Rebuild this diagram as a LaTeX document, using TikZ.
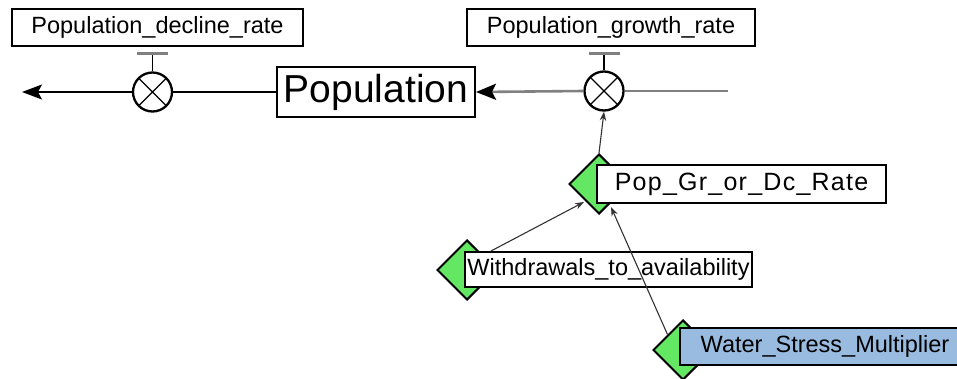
\documentclass[tikz,border=0pt]{standalone}
\usepackage{fontspec}
\setmainfont{Liberation Sans}
\newfontfamily\spacedfont[LetterSpace=5]{Liberation Sans}
\usetikzlibrary{arrows.meta,shapes.geometric,calc}

\definecolor{auxgreen}{RGB}{100,232,100}
\definecolor{constblue}{RGB}{153,187,224}
\definecolor{linkgray}{RGB}{50,50,50}

\begin{document}
\begin{tikzpicture}[x=1pt,y=-1pt,
  lbl/.style={draw=black,line width=2pt,fill=white,inner sep=0pt,
    font=\fontsize{23.5}{27}\selectfont},
  gate/.style={draw=black,line width=2.3pt,circle,minimum size=39pt,inner sep=0pt,fill=white,
    path picture={\draw[line width=1.2pt]
      (path picture bounding box.north west)--(path picture bounding box.south east)
      (path picture bounding box.north east)--(path picture bounding box.south west);}},
  auxdia/.style={diamond,draw=black,line width=2pt,fill=auxgreen,inner sep=0pt,
    minimum width=60pt,minimum height=60pt},
  stem/.style={line width=1.6pt,shorten >=6.5pt},
  bar/.style={draw=gray,line width=2.2pt},
  flow/.style={-{Stealth[length=20pt,width=15pt,inset=4pt]}},
  link/.style={draw=linkgray,line width=1.1pt,-{Stealth[length=9pt,width=6.5pt]}}
]
\useasboundingbox (0,0) rectangle (957,378);

% stock and its rates
\node[lbl,minimum width=198pt,minimum height=50pt,font=\fontsize{39}{44}\selectfont]
  (pop) at (376,92) {Population};
\node[lbl,minimum width=291pt,minimum height=37pt] (decbox) at (157.5,27.5) {Population\_decline\_rate};
\node[lbl,minimum width=288pt,minimum height=37pt] (grobox) at (611,27.5) {Population\_growth\_rate};

% outflow
\node[gate] (decv) at (152.5,92) {};
\coordinate (sink) at (22,92);
\draw[line width=1.6pt] (pop.west) -- (decv.east);
\draw[line width=1.6pt,flow] (decv.west) -- (sink);

% inflow
\node[gate] (grov) at (604,91) {};
\coordinate (source) at (728,91);
\draw[line width=2.6pt,draw=gray] (source) -- (grov.east);
\draw[line width=2.6pt,draw=gray,-{Stealth[length=20pt,width=16pt,inset=4pt,color=black]}] (grov.west) -- (pop.east);

% rate controls
\draw[stem] (decv.north) -- (decv.north |- decbox.south);
\draw[bar] ($(decv.north |- decbox.south)+(-15.5,6.5)$) -- ++(31,0);
\draw[stem] (grov.north) -- (grov.north |- grobox.south);
\draw[bar] ($(grov.north |- grobox.south)+(-15.5,6.5)$) -- ++(31,0);

% auxiliaries
\node[auxdia] (pdia) at (599,184) {};
\node[lbl,minimum width=289pt,minimum height=38pt,font=\spacedfont\fontsize{25}{29}\selectfont]
  (pbox) at (741.5,184) {Pop\_Gr\_or\_Dc\_Rate};

\node[auxdia] (wdia) at (467,270) {};
\node[lbl,minimum width=287pt,minimum height=35pt] (wbox) at (608.5,269.5) {Withdrawals\_to\_availability};

\node[auxdia] (sdia) at (683,350) {};
\node[lbl,fill=constblue,minimum width=290pt,minimum height=37pt] (sbox) at (825,346.5) {Water\_Stress\_Multiplier};

% information links
\coordinate (pin1) at (584,202);
\coordinate (pin2) at (611,207);
\draw[link] ($(wbox.north west)+(27,0)$) -- (pin1);
\draw[link] (sdia.north west) -- (pin2);
\draw[link] (pdia.north) -- (grov.south);
\end{tikzpicture}
\end{document}
